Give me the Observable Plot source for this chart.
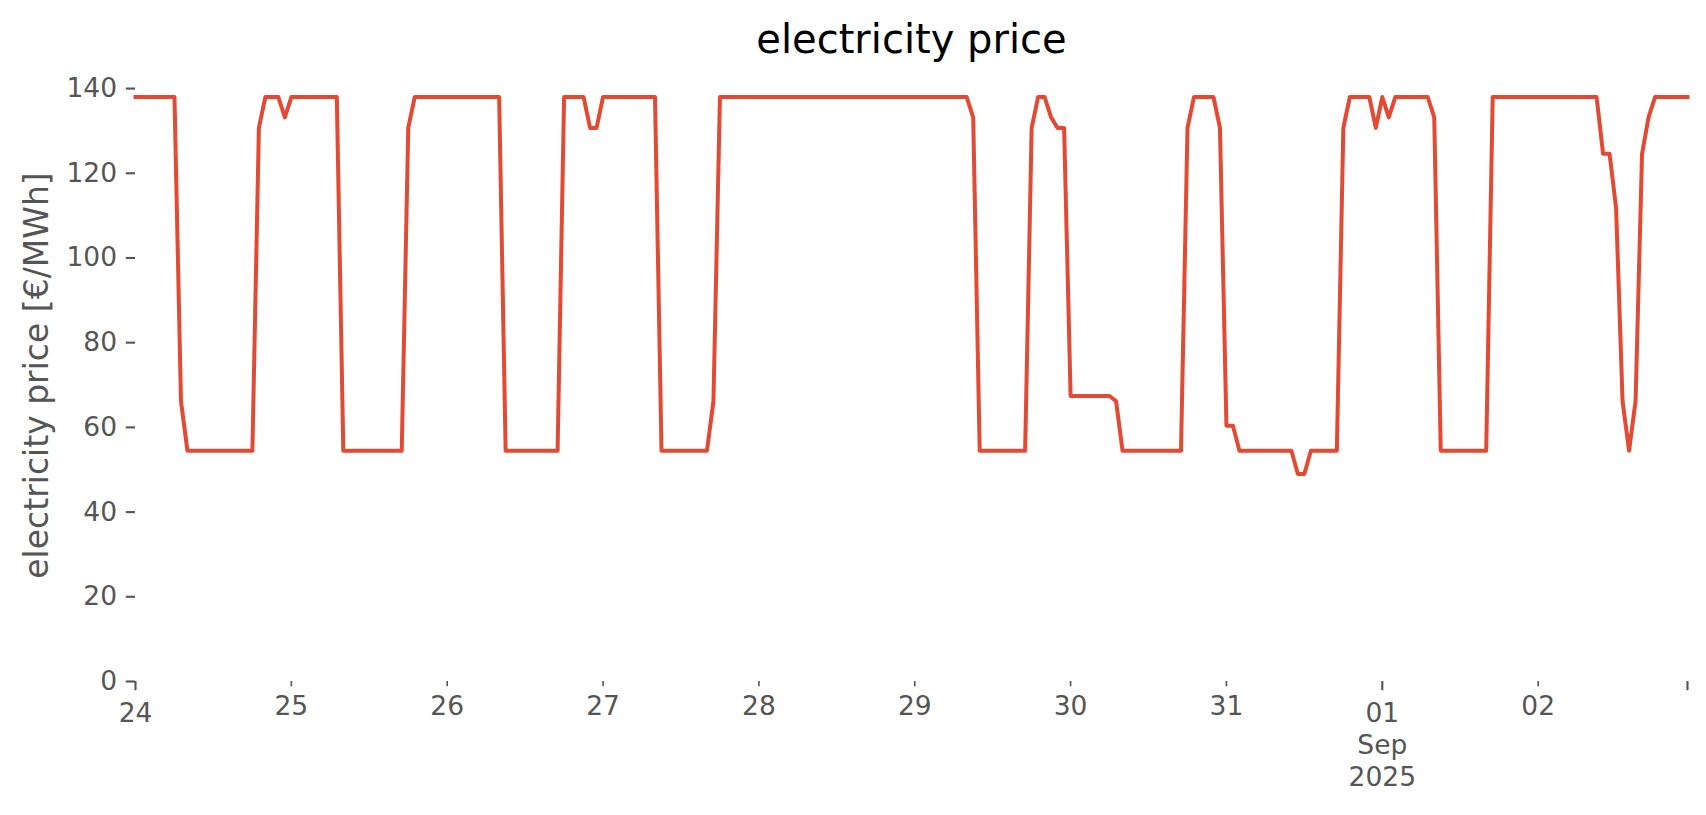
<!DOCTYPE html>
<html>
<head>
<meta charset="utf-8">
<script src="https://cdn.jsdelivr.net/npm/d3@7"></script>
<script src="https://cdn.jsdelivr.net/npm/@observablehq/plot@0.6"></script>
<style>
  html, body { margin: 0; padding: 0; background: #ffffff; overflow: hidden; }
  #chart svg { display: block; }
</style>
</head>
<body>
<div id="chart"></div>
<script>
// ---- data: hourly electricity price [€/MWh], one array per day ----
const days = ["2025-08-24","2025-08-25","2025-08-26","2025-08-27","2025-08-28",
              "2025-08-29","2025-08-30","2025-08-31","2025-09-01","2025-09-02"];

const aug24 = [138,138,138,138,138,138,138,66.2,54.5,54.5,54.5,54.5,54.5,54.5,54.5,54.5,54.5,54.5,54.5,130.7,138,138,138,133.2];
const aug25 = [138,138,138,138,138,138,138,138,54.5,54.5,54.5,54.5,54.5,54.5,54.5,54.5,54.5,54.5,130.7,138,138,138,138,138];
const aug26 = [138,138,138,138,138,138,138,138,138,54.5,54.5,54.5,54.5,54.5,54.5,54.5,54.5,54.5,138,138,138,138,130.7,130.7];
const aug27 = [138,138,138,138,138,138,138,138,138,54.5,54.5,54.5,54.5,54.5,54.5,54.5,54.5,66.2,138,138,138,138,138,138];
const aug28 = [138,138,138,138,138,138,138,138,138,138,138,138,138,138,138,138,138,138,138,138,138,138,138,138];
const aug29 = [138,138,138,138,138,138,138,138,138,133.2,54.5,54.5,54.5,54.5,54.5,54.5,54.5,54.5,130.7,138,138,133.2,130.7,130.7];
const aug30 = [67.4,67.4,67.4,67.4,67.4,67.4,67.4,66.2,54.5,54.5,54.5,54.5,54.5,54.5,54.5,54.5,54.5,54.5,130.7,138,138,138,138,130.7];
const aug31 = [60.4,60.4,54.5,54.5,54.5,54.5,54.5,54.5,54.5,54.5,54.5,49,49,54.5,54.5,54.5,54.5,54.5,130.7,138,138,138,138,130.7];
const sep01 = [138,133.2,138,138,138,138,138,138,133.2,54.5,54.5,54.5,54.5,54.5,54.5,54.5,54.5,138,138,138,138,138,138,138];
const sep02 = [138,138,138,138,138,138,138,138,138,138,124.6,124.6,111.8,66.2,54.5,66.2,124.6,133.2,138,138,138,138,138,138];

const dailyPrices = [aug24, aug25, aug26, aug27, aug28, aug29, aug30, aug31, sep01, sep02];

// ---- tick labels ----
const yTicks = [0, 20, 40, 60, 80, 100, 120, 140];
const minorTickDays = ["2025-08-25","2025-08-26","2025-08-27","2025-08-28","2025-08-29",
                       "2025-08-30","2025-08-31","2025-09-02"];
const minorTickLabels = ["25","26","27","28","29","30","31","02"];
const majorTickTimes = ["2025-08-24T00:00:00Z","2025-09-01T00:00:00Z"];
const majorTickLabels = ["24","01\nSep\n2025"];
const endTickTime = "2025-09-02T23:00:00Z";

const titleText = "electricity price";
const yLabelText = "electricity price [€/MWh]";

// ---- build table ----
const HOUR = 3600 * 1000;
const rows = days.flatMap((d, i) =>
  dailyPrices[i].map((v, h) => ({time: new Date(Date.parse(d + "T00:00:00Z") + h * HOUR), price: v}))
);

const minorDates = minorTickDays.map(d => new Date(d + "T00:00:00Z"));
const minorMap = new Map(minorDates.map((d, i) => [+d, minorTickLabels[i]]));
const majorDates = majorTickTimes.map(d => new Date(d));
const majorMap = new Map(majorDates.map((d, i) => [+d, majorTickLabels[i]]));
const endDate = new Date(endTickTime);

const grey = "#555555";

const chart = Plot.plot({
  width: 1706,
  height: 815,
  marginLeft: 135,
  marginRight: 19,
  marginTop: 69,
  marginBottom: 134,
  style: {fontFamily: "DejaVu Sans", background: "#ffffff", overflow: "visible"},
  x: {type: "utc", domain: [rows[0].time, rows[rows.length - 1].time]},
  y: {domain: [0, 144.5]},
  marks: [
    Plot.axisY(yTicks, {
      tickSize: 9.2, tickPadding: 9.2, fontSize: 26.5, color: grey, strokeWidth: 2.1, label: null
    }),
    Plot.axisX(minorDates, {
      tickSize: 5.3, tickPadding: 9.2, fontSize: 26.5, color: grey, strokeWidth: 1.6,
      tickFormat: d => minorMap.get(+d), label: null
    }),
    Plot.axisX(majorDates, {
      tickSize: 9.2, tickPadding: 9.2, fontSize: 26.5, color: grey, strokeWidth: 2.1,
      lineHeight: 1.2, tickFormat: d => majorMap.get(+d), label: null
    }),
    Plot.axisX([endDate], {
      tickSize: 9.2, tickPadding: 9.2, fontSize: 26.5, color: grey, strokeWidth: 2.1,
      tickFormat: () => "", label: null
    }),
    Plot.line(rows, {
      x: "time", y: "price", stroke: "#E24A33", strokeWidth: 4,
      strokeLinejoin: "round", strokeLinecap: "square"
    }),
    Plot.text([titleText], {
      text: d => d, frameAnchor: "top", lineAnchor: "bottom", dy: -16.5,
      fontSize: 40, fill: "#000000"
    }),
    Plot.text([yLabelText], {
      text: d => d, frameAnchor: "left", textAnchor: "middle", rotate: -90, lineAnchor: "bottom", dx: -88,
      fontSize: 33, fill: grey
    })
  ]
});

document.getElementById("chart").appendChild(chart);
</script>
</body>
</html>
